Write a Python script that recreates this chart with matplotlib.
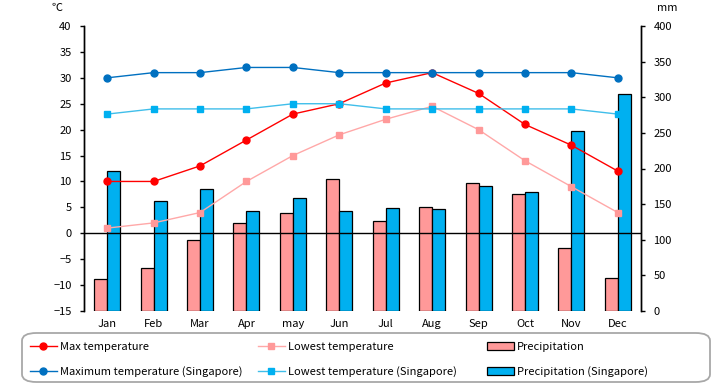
import matplotlib
matplotlib.use("Agg")
import matplotlib.pyplot as plt
from matplotlib.patches import FancyBboxPatch
import numpy as np

plt.rcParams["font.family"] = ["Noto Sans CJK JP", "DejaVu Sans"]

MONTHS = ["Jan", "Feb", "Mar", "Apr", "may", "Jun", "Jul", "Aug", "Sep", "Oct", "Nov", "Dec"]

max_temp = [10, 10, 13, 18, 23, 25, 29, 31, 27, 21, 17, 12]
low_temp = [1, 2, 4, 10, 15, 19, 22, 24.5, 20, 14, 9, 4]
max_temp_sg = [30, 31, 31, 32, 32, 31, 31, 31, 31, 31, 31, 30]
low_temp_sg = [23, 24, 24, 24, 25, 25, 24, 24, 24, 24, 24, 23]
precip = [45, 60, 99, 124, 137, 185, 126, 146, 179, 164, 88, 46]
precip_sg = [197, 154, 171, 140, 158, 140, 144, 143, 176, 167, 252, 304]

W, H = 720, 385
fig = plt.figure(figsize=(7.2, 3.85), dpi=100)
ax = fig.add_axes([84 / W, 1 - 311 / H, 557 / W, 285 / H])
ax2 = ax.twinx()

# bars on the right axis, lines on the left axis drawn on top
ax.set_zorder(ax2.get_zorder() + 1)
ax.patch.set_visible(False)
ax2.set_facecolor("#FFFFCC")

x = np.arange(len(MONTHS))
w = 0.28
b1 = ax2.bar(x - w / 2, precip, w, color="#FF9999", edgecolor="black", linewidth=0.9,
             label="Precipitation")
b2 = ax2.bar(x + w / 2, precip_sg, w, color="#00B0F0", edgecolor="black", linewidth=0.9,
             label="Precipitation (Singapore)")

ax.axhline(0, color="black", linewidth=1.0, zorder=1)

l1, = ax.plot(x, max_temp, "-o", color="#FF0000", markersize=5, linewidth=1.0,
              label="Max temperature")
l2, = ax.plot(x, low_temp, "-s", color="#FFA8A8", markerfacecolor="#FF9999",
              markeredgecolor="#FF9999", markersize=4.5, linewidth=1.0,
              label="Lowest temperature")
l3, = ax.plot(x, max_temp_sg, "-o", color="#0070C0", markersize=5, linewidth=1.0,
              label="Maximum temperature (Singapore)")
l4, = ax.plot(x, low_temp_sg, "-s", color="#40BEEA", markerfacecolor="#00B0F0",
              markeredgecolor="#00B0F0", markersize=5, linewidth=1.0,
              label="Lowest temperature (Singapore)")

ax.set_xlim(-0.5, len(MONTHS) - 0.5)
ax.set_ylim(-15, 40)
ax.set_yticks(range(-15, 41, 5))
ax2.set_ylim(0, 400)
ax2.set_yticks(range(0, 401, 50))

ax.set_xticks(x)
ax.set_xticklabels(MONTHS)
ax.tick_params(axis="x", length=0, pad=6, labelsize=8)
ax.tick_params(axis="y", direction="out", length=3, width=1, pad=6, labelsize=8)
ax2.tick_params(axis="y", direction="out", length=3, width=1, pad=6, labelsize=8)

for a in (ax, ax2):
    a.spines["top"].set_visible(False)
    a.spines["bottom"].set_visible(False)
    a.spines["left"].set_linewidth(1.0)
    a.spines["right"].set_linewidth(1.0)

fig.text(57 / W, 1 - 8 / H, "℃", fontsize=8, ha="center", va="center")
fig.text(667 / W, 1 - 8 / H, "mm", fontsize=8, ha="center", va="center")

# legend frame
frame = FancyBboxPatch((22 / W, 3 / H), 688 / W, 49 / H,
                       boxstyle="round,pad=0,rounding_size=0.02",
                       transform=fig.transFigure, facecolor="white",
                       edgecolor="#A8A8A8", linewidth=1.3, zorder=0)
fig.patches.append(frame)

columns = [((l1, l3), 30), ((l2, l4), 258), ((b1, b2), 487)]
for handles, x0 in columns:
    leg = fig.legend(list(handles), [h.get_label() for h in handles],
                     loc="upper left", bbox_to_anchor=(x0 / W, 1 - 342 / H),
                     fontsize=8, frameon=False, borderpad=0, borderaxespad=0,
                     handlelength=2.4, handletextpad=0.3, labelspacing=1.25)

fig.savefig("out.png", dpi=100)
